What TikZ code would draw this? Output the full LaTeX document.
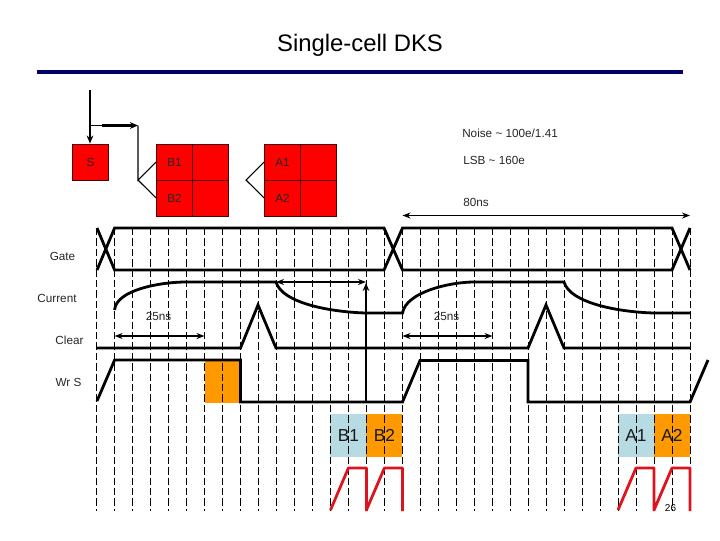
\documentclass[tikz,border=0pt]{standalone}
\usepackage{fontspec}
\setmainfont{Liberation Sans}
\usetikzlibrary{arrows.meta}
\definecolor{navy}{RGB}{0,0,102}
\definecolor{cellred}{RGB}{255,0,0}
\definecolor{sigorange}{RGB}{255,153,0}
\definecolor{lightblue}{RGB}{183,219,226}
\definecolor{pulsered}{RGB}{221,20,30}
\tikzset{
  gridline/.style={black,line width=0.75pt,dash pattern=on 5.6pt off 2.2pt},
  wave/.style={black,line width=2.1pt,line join=miter},
  pulse/.style={pulsered,line width=2.1pt,line join=bevel},
  span/.style={black,line width=1.2pt,{Stealth[length=6pt,width=4.5pt]}-{Stealth[length=6pt,width=4.5pt]}},
  cell/.style={draw=black!70!red,line width=0.7pt,fill=cellred},
  thinline/.style={black,line width=0.8pt},
  lab/.style={font=\fontsize{8.8}{10}\selectfont,inner sep=0pt,text=black!85},
  slotlab/.style={font=\fontsize{13}{15}\selectfont,inner sep=0pt,text=black!90},
}
\begin{document}
\begin{tikzpicture}[x=0.75pt,y=-0.75pt]
\useasboundingbox (0,0) rectangle (720,540);
% title
\node[font=\fontsize{17.9}{21}\selectfont,inner sep=0pt] (title) at (360,45) {Single-cell DKS};
\coordinate (ruleL) at (37,72); \coordinate (ruleR) at (683,72);
\draw[navy,line width=2.3pt] (ruleL) -- (ruleR);
% slot boxes (under the grid)
\fill[sigorange] (204.5,359.5) rectangle (240.5,403);
\node[fill=lightblue,minimum width=27pt,minimum height=32.25pt,inner sep=0pt,anchor=center] (b1box) at (348.4,435.5) {};
\node[fill=sigorange,minimum width=27pt,minimum height=32.25pt,inner sep=0pt] (b2box) at (384.4,435.5) {};
\node[fill=lightblue,minimum width=27pt,minimum height=32.25pt,inner sep=0pt] (a1box) at (636,435.5) {};
\node[fill=sigorange,minimum width=27pt,minimum height=32.25pt,inner sep=0pt] (a2box) at (672,435.5) {};
% grid
\foreach \i in {0,...,33} \draw[gridline] ({96.7+17.98*\i},228) -- ({96.7+17.98*\i},511);
% slot labels
\node[slotlab] (b1t) at (348.4,435.5) {B1};
\node[slotlab] (b2t) at (384.4,435.5) {B2};
\node[slotlab] (a1t) at (636,435.5) {A1};
\node[slotlab] (a2t) at (672,435.5) {A2};
% cells
\node[cell,minimum size=27pt,inner sep=0pt,lab] (S) at (90.5,162) {S};
\node[cell,minimum size=27pt,inner sep=0pt,lab] (B1) at (174.5,162) {B1};
\node[cell,minimum size=27pt,inner sep=0pt] (B1r) at (210.5,162) {};
\node[cell,minimum size=27pt,inner sep=0pt,lab] (B2) at (174.5,198) {B2};
\node[cell,minimum size=27pt,inner sep=0pt] (B2r) at (210.5,198) {};
\node[cell,minimum size=27pt,inner sep=0pt,lab] (A1) at (282.5,162) {A1};
\node[cell,minimum size=27pt,inner sep=0pt] (A1r) at (318.5,162) {};
\node[cell,minimum size=27pt,inner sep=0pt,lab] (A2) at (282.5,198) {A2};
\node[cell,minimum size=27pt,inner sep=0pt] (A2r) at (318.5,198) {};
% address tree
\coordinate (top) at (90,90);
\coordinate (tap) at (90,125.5);
\coordinate (mid) at (102,125.5);
\coordinate (corner) at (138,125.5);
\coordinate (forkB) at (138,180);
\coordinate (forkA) at (246,180);
\draw[black,line width=1.6pt,-{Stealth[length=6pt,width=5pt]}] (top) -- (S.north -| top);
\draw[thinline] (tap) -- (mid);
\draw[black,line width=1.6pt,-{Stealth[length=6pt,width=5pt]}] (mid) -- (corner);
\draw[thinline] (corner) -- (forkB) -- (B1.west);
\draw[thinline] (forkB) -- (B2.west);
\draw[thinline] (A1.west) -- (forkA) -- (A2.west);
% signal labels
\node[lab] (gate) at (62.5,256.5) {Gate};
\node[lab] (current) at (57,298.5) {Current};
\node[lab] (clear) at (69.5,340.5) {Clear};
\node[lab] (wrs) at (68.5,382.5) {Wr S};
\node[lab,anchor=west] (noise) at (462,133.5) {Noise \textasciitilde{} 100e/1.41};
\node[lab,anchor=west] (lsb) at (463,160.5) {LSB \textasciitilde{} 160e};
\node[lab,anchor=west] (ens) at (463,202.5) {80ns};
\node[lab] (t1) at (158.5,316.5) {25ns};
\node[lab] (t2) at (446.5,316.5) {25ns};
\node[font=\fontsize{7.5}{9}\selectfont,inner sep=0pt] (pg) at (670.5,508.5) {26};
% gate
\draw[wave] (97,228) -- (114.6,270) -- (384,270) -- (402.5,228) -- (672,228) -- (690,270);
\draw[wave] (97,270) -- (114.6,228) -- (384,228) -- (402.5,270) -- (672,270) -- (690,228);
% current
\draw[wave] (114.6,310) .. controls (116,290) and (160,282) .. (186,282) -- (276,282)
  .. controls (282,303) and (330,312) .. (366,313) -- (402.5,313)
  .. controls (406,292) and (450,282) .. (474,282) -- (564,282)
  .. controls (570,303) and (618,312) .. (654,313) -- (690,313);
% clear
\draw[wave] (97,348) -- (240.5,348) -- (258,305) -- (276,348) -- (528,348) -- (546,305) -- (564,348) -- (690,348);
% write S
\draw[wave] (97,401) -- (114.6,360) -- (240.5,360) -- (240.5,402) -- (402.5,402) -- (420,360.5) -- (528,360.5) -- (528,402) -- (690,402) -- (708,360);
% timing arrows
\coordinate (cA) at (276,282); \coordinate (cB) at (366,282);
\coordinate (d1) at (114.6,336); \coordinate (d2) at (204.5,336);
\coordinate (d3) at (402.5,336); \coordinate (d4) at (492.5,336);
\coordinate (e1) at (402.5,215.5); \coordinate (e2) at (690,215.5);
\draw[span] (cA) -- (cB);
\draw[span] (d1) -- (d2);
\draw[span] (d3) -- (d4);
\draw[span] (e1) -- (e2);
\coordinate (vb) at (366,402); \coordinate (vt) at (366,283);
\draw[black,line width=1.6pt,-{Stealth[length=6pt,width=5pt]}] (vb) -- (vt);
% read pulses
\draw[pulse] (330.5,510) -- (348.4,468) -- (366.4,468) -- (366.4,511) (366.4,510) -- (384.4,468) -- (402.4,468) -- (402.4,511);
\draw[pulse] (618,510) -- (636,468) -- (654,468) -- (654,511) (654,510) -- (672,468) -- (690,468) -- (690,511);
\end{tikzpicture}
\end{document}
